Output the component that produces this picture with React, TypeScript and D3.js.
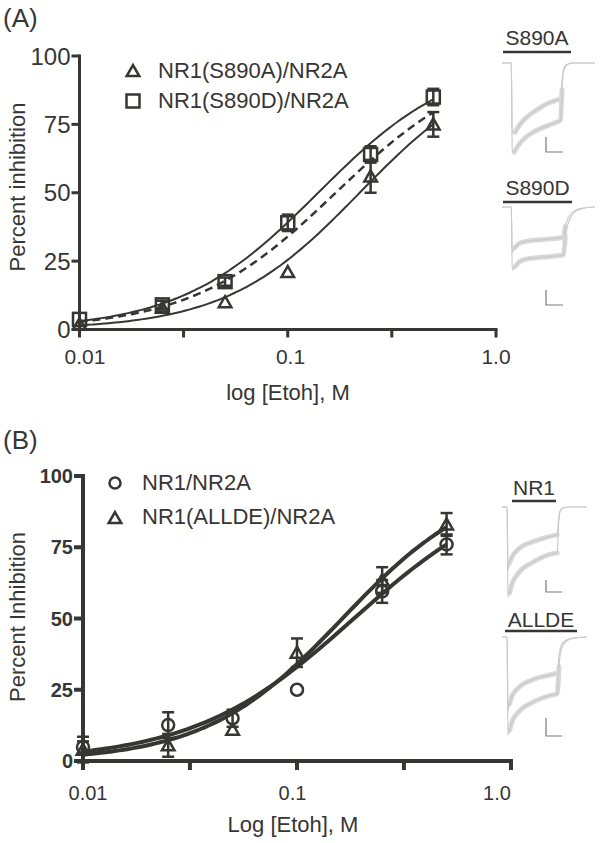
import React from 'react';
import * as d3 from 'd3';

// ---------- Data (panel A) ----------
const concA = [0.01, 0.025, 0.05, 0.1, 0.25, 0.5];
const s890aMean = [2, 8, 10, 21, 56, 75];
const s890aSem = [0, 0, 0, 0, 6, 4.5];
const s890dMean = [3.7, 9, 17.5, 39, 64, 85];
const s890dSem = [0, 1.5, 1.5, 3, 3, 3];
// Hill fits: [IC50 (M), Hill slope]
const fitS890A = [0.2215, 1.35];
const fitS890D = [0.14, 1.31];
const fitDashed = [0.17, 1.25];

// ---------- Data (panel B) ----------
const concB = [0.01, 0.025, 0.05, 0.1, 0.25, 0.5];
const nr1Mean = [4.9, 12.6, 15, 25, 59.5, 76];
const nr1Sem = [2, 4.5, 3, 0, 4, 3.5];
const alldeMean = [4, 5.5, 11, 38, 63.5, 83];
const alldeSem = [4.5, 4, 0, 5, 4.5, 4];
const fitNR1 = [0.1845, 1.156];
const fitALLDE = [0.163, 1.355];

// ---------- Axis ticks ----------
const xMajorTicks = [0.01, 0.1, 1];
const xTickLabels = ['0.01', '0.1', '1.0'];
const xMinorTicks = [0.0316, 0.316];
const yTicks = [0, 25, 50, 75, 100];
const fitRange = [0.01, 0.5];

// ---------- Current traces (time 0-100, depth 0-100) ----------
const traceA1Lower = [[0,0],[10,0],[11,98],[13,100],[18,92],[25,84],[35,77],[45,72],[55,68],[63,64],[64.5,30],[66,10],[69,3],[75,0],[100,0]];
const traceA1Upper = [[0,0],[10,0],[11,76],[14,78],[20,68],[30,58],[40,51],[50,45],[58,42],[63,40],[64.5,20],[66,8],[69,2],[75,0],[100,0]];
const traceA2Lower = [[0,0],[10,0],[11,97],[14,92],[20,83],[30,79],[45,77],[60,75],[66,74],[68,45],[72,22],[78,8],[85,3],[100,0]];
const traceA2Upper = [[0,0],[10,0],[11,70],[14,62],[20,55],[30,52],[45,50],[60,48],[66,47],[68,30],[72,15],[78,6],[85,2],[100,0]];
const traceB1Lower = [[0,0],[6,0],[7,100],[9,95],[12,85],[18,75],[25,68],[35,62],[45,57],[55,53],[65,51],[66.5,20],[68,6],[72,1],[80,0],[100,0]];
const traceB1Upper = [[0,0],[6,0],[7,70],[9,62],[12,55],[18,48],[25,43],[35,39],[45,36],[55,33],[65,31],[66.5,15],[68,5],[72,1],[80,0],[100,0]];
const traceB2Lower = [[0,0],[6,0],[7,100],[9,95],[12,86],[18,78],[25,72],[35,67],[45,63],[55,60],[65,58],[67,30],[70,12],[76,4],[85,1],[100,0]];
const traceB2Upper = [[0,0],[6,0],[7,75],[9,68],[12,60],[18,53],[25,48],[35,44],[45,41],[55,39],[65,37],[67,20],[70,8],[76,3],[85,1],[100,0]];

const INK = '#363634';
const FONT = '"Liberation Sans", Arial, Helvetica, sans-serif';

const hill = (x: number, p: number[]) => 100 / (1 + Math.pow(p[0] / x, p[1]));

function fitPath(p: number[], xs: any, ys: any) {
  const lx = d3.scaleLinear().domain([0, 80]).range([Math.log10(fitRange[0]), Math.log10(fitRange[1])]);
  const pts = d3.range(0, 81).map((i) => Math.pow(10, lx(i)));
  return d3.line<number>().x((d) => xs(d)).y((d) => ys(hill(d, p))).curve(d3.curveMonotoneX)(pts) || '';
}

const triPath = (cx: number, cy: number, s: number) =>
  `M${cx},${cy - s * 0.95}L${cx + s},${cy + s * 0.8}L${cx - s},${cy + s * 0.8}Z`;

function Markers({ xs, ys, conc, mean, sem, shape, sw }: any) {
  return (
    <g stroke={INK} fill="none" strokeWidth={sw}>
      {conc.map((c: number, i: number) => {
        const x = xs(c), y = ys(mean[i]), yt = ys(mean[i] + sem[i]), yb = ys(mean[i] - sem[i]);
        return (
          <g key={i}>
            {sem[i] > 0 && (
              <g>
                <line x1={x} x2={x} y1={yt} y2={yb} />
                <line x1={x - 6} x2={x + 6} y1={yt} y2={yt} />
                <line x1={x - 6} x2={x + 6} y1={yb} y2={yb} />
              </g>
            )}
            {shape === 'square' && <rect x={x - 6.5} y={y - 6.5} width={13} height={13} />}
            {shape === 'triangle' && <path d={triPath(x, y, 6.3)} />}
            {shape === 'circle' && <circle cx={x} cy={y} r={6} />}
          </g>
        );
      })}
    </g>
  );
}

function Axes({ xs, xl, ys, sw, tick, yFont, yBold, xFont, xLabelY }: any) {
  const x0 = xs(0.01), x1 = xs(1), y0 = ys(0), y1 = ys(100);
  return (
    <g stroke={INK} strokeWidth={sw} fill="none" strokeLinecap="butt">
      <line x1={x0 - sw / 2} x2={x1 + sw / 2} y1={y0} y2={y0} />
      <line x1={x0} x2={x0} y1={y1 - sw / 2} y2={y0} />
      {[...xMajorTicks, ...xMinorTicks].map((t, i) => (
        <line key={'x' + i} x1={xs(t)} x2={xs(t)} y1={y0} y2={y0 + tick} />
      ))}
      {yTicks.map((t, i) => (
        <line key={'y' + i} x1={x0 - tick} x2={x0} y1={ys(t)} y2={ys(t)} />
      ))}
      <g stroke="none" fill={INK} fontFamily={FONT}>
        {xMajorTicks.map((t, i) => (
          <text key={'xl' + i} x={xl(t)} y={xLabelY} fontSize={xFont} textAnchor="middle">{xTickLabels[i]}</text>
        ))}
        {yTicks.map((t, i) => (
          <text key={'yl' + i} x={x0 - tick - 1} y={ys(t)} dy="0.36em" fontSize={yFont} fontWeight={yBold ? 'bold' : 'normal'} textAnchor="end">{t}</text>
        ))}
      </g>
    </g>
  );
}

function Trace({ box, lower, upper, label, labelY, ul, bar }: any) {
  const tx = d3.scaleLinear().domain([0, 100]).range([box[0], box[1]]);
  const ty = d3.scaleLinear().domain([0, 100]).range([box[2], box[3]]);
  const ln = d3.line<number[]>().x((d) => tx(d[0])).y((d) => ty(d[1])).curve(d3.curveMonotoneX);
  const band = (arr: number[][]) => arr.filter((d) => d[1] > 25 && d[0] > arr[1][0] + 1.5);
  return (
    <g>
      <text x={(ul[0] + ul[1]) / 2} y={labelY} fontSize={21} fontFamily={FONT} fill={INK} textAnchor="middle">{label}</text>
      <line x1={ul[0]} x2={ul[1]} y1={ul[2]} y2={ul[2]} stroke={INK} strokeWidth={2.5} />
      {[upper, lower].map((tr, k) => (
        <g key={k}>
          <path d={ln(band(tr)) || ''} fill="none" stroke="#dadada" strokeWidth={5} strokeLinecap="round" />
          <path d={ln(band(tr)) || ''} fill="none" stroke="#c4c4c4" strokeWidth={1.2} strokeDasharray="1.5,1.5" />
          <path d={ln(tr) || ''} fill="none" stroke="#cbcbcb" strokeWidth={1.2} />
        </g>
      ))}
      <path d={`M${bar[0]},${bar[1]}L${bar[0]},${bar[2]}L${bar[3]},${bar[2]}`} fill="none" stroke="#7a7a7a" strokeWidth={1.2} />
    </g>
  );
}

export default function App() {
  const xA = d3.scaleLog().domain([0.01, 1]).range([79.5, 496]);
  const xAl = d3.scaleLog().domain([0.01, 1]).range([85, 496]);
  const yA = d3.scaleLinear().domain([0, 100]).range([329.5, 56]);
  const xB = d3.scaleLog().domain([0.01, 1]).range([83, 511]);
  const xBl = d3.scaleLog().domain([0.01, 1]).range([88, 497]);
  const yB = d3.scaleLinear().domain([0, 100]).range([761, 476]);

  return (
    <svg width={600} height={843} style={{ position: 'absolute', left: 0, top: 0, background: 'white' }} fontFamily={FONT}>
      <rect width={600} height={843} fill="white" />
      {/* Panel A */}
      <text x={3} y={27} fontSize={26} fill={INK}>(A)</text>
      <Axes xs={xA} xl={xAl} ys={yA} sw={3} tick={8} yFont={24} yBold={false} xFont={21} xLabelY={364} />
      <text transform="translate(25,187) rotate(-90)" fontSize={22} fill={INK} textAnchor="middle">Percent inhibition</text>
      <text x={288} y={400} fontSize={22} fill={INK} textAnchor="middle">log [Etoh], M</text>
      <path d={fitPath(fitS890D, xA, yA)} fill="none" stroke={INK} strokeWidth={2} />
      <path d={fitPath(fitS890A, xA, yA)} fill="none" stroke={INK} strokeWidth={2} />
      <path d={fitPath(fitDashed, xA, yA)} fill="none" stroke={INK} strokeWidth={2.5} strokeDasharray="8,5" />
      <Markers xs={xA} ys={yA} conc={concA} mean={s890aMean} sem={s890aSem} shape="triangle" sw={2.5} />
      <Markers xs={xA} ys={yA} conc={concA} mean={s890dMean} sem={s890dSem} shape="square" sw={2.5} />
      <g stroke={INK} strokeWidth={2.5} fill="none">
        <path d={triPath(133, 71, 6.3)} />
        <rect x={126.5} y={94.5} width={13} height={13} />
      </g>
      <text x={158} y={78} fontSize={22} fill={INK}>NR1(S890A)/NR2A</text>
      <text x={158} y={108} fontSize={22} fill={INK}>NR1(S890D)/NR2A</text>

      <Trace box={[502, 595, 63, 152]} lower={traceA1Lower} upper={traceA1Upper} label="S890A" labelY={45} ul={[503, 571, 52]} bar={[546, 137, 152, 563]} />
      <Trace box={[502, 595, 207, 272]} lower={traceA2Lower} upper={traceA2Upper} label="S890D" labelY={195} ul={[503, 572, 202]} bar={[546, 290, 305, 563]} />

      {/* Panel B */}
      <text x={3} y={449} fontSize={26} fill={INK}>(B)</text>
      <Axes xs={xB} xl={xBl} ys={yB} sw={4} tick={9} yFont={20} yBold={true} xFont={20} xLabelY={800} />
      <text transform="translate(25,617) rotate(-90)" fontSize={22} fill={INK} textAnchor="middle">Percent Inhibition</text>
      <text x={293} y={832} fontSize={22} fill={INK} textAnchor="middle">Log [Etoh], M</text>
      <path d={fitPath(fitNR1, xB, yB)} fill="none" stroke={INK} strokeWidth={4} />
      <path d={fitPath(fitALLDE, xB, yB)} fill="none" stroke={INK} strokeWidth={4} />
      <Markers xs={xB} ys={yB} conc={concB} mean={nr1Mean} sem={nr1Sem} shape="circle" sw={2.5} />
      <Markers xs={xB} ys={yB} conc={concB} mean={alldeMean} sem={alldeSem} shape="triangle" sw={2.5} />
      <g stroke={INK} strokeWidth={2.5} fill="none">
        <circle cx={115} cy={483} r={5.5} />
        <path d={triPath(115, 518, 6.3)} />
      </g>
      <text x={142} y={490} fontSize={22} fill={INK}>NR1/NR2A</text>
      <text x={142} y={524} fontSize={22} fill={INK}>NR1(ALLDE)/NR2A</text>

      <Trace box={[502, 587, 507, 597]} lower={traceB1Lower} upper={traceB1Upper} label="NR1" labelY={495} ul={[512, 556, 501]} bar={[546, 580, 592, 562]} />
      <Trace box={[502, 587, 637, 735]} lower={traceB2Lower} upper={traceB2Upper} label="ALLDE" labelY={627} ul={[505, 577, 631]} bar={[546, 718, 736, 562]} />
    </svg>
  );
}
